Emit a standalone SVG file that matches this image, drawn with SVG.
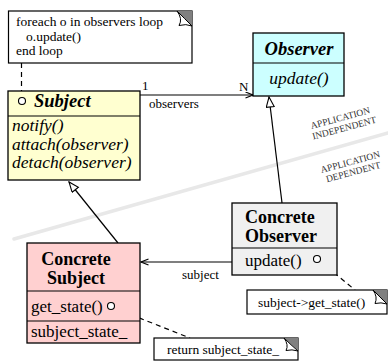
<svg xmlns="http://www.w3.org/2000/svg" width="388" height="361" viewBox="0 0 388 361" font-family="'Liberation Serif', 'Times New Roman', 'DejaVu Serif', serif">
<style>
text{font-family:'Liberation Serif','Times New Roman','DejaVu Serif',serif;fill:#000}
.box{stroke:#000;stroke-width:1.3}
.note{fill:#fff;stroke:#000;stroke-width:1.2}
.hdr{font-size:18px;font-weight:bold}
.hi{font-size:18.5px;font-weight:bold;font-style:italic}
.mi{font-size:17.5px;font-style:italic}
.m{font-size:17px}
.sm{font-size:13px}
.nt{font-size:13.5px}
.lbl{font-size:9.5px;fill:#333}
.ln{stroke:#000;stroke-width:1.2;fill:none}
.dash{stroke:#000;stroke-width:1.2;stroke-dasharray:5,4;fill:none}
.dot{fill:#fff;stroke:#000;stroke-width:1.1}
.curl{fill:#fff;stroke:#000;stroke-width:1}
.fold{fill:#808080}
</style>
<defs>
<marker id="inh" markerWidth="12" markerHeight="10" refX="11" refY="4.5" orient="auto" markerUnits="userSpaceOnUse">
<path d="M1,0.5 L11,4.5 L1,8.5 Z" fill="#fff" stroke="#000" stroke-width="1.1"/>
</marker>
<marker id="open" markerWidth="9" markerHeight="8" refX="8" refY="3.5" orient="auto" markerUnits="userSpaceOnUse">
<path d="M0.5,0.5 L8,3.5 L0.5,6.5" fill="none" stroke="#000" stroke-width="1.1"/>
</marker>
</defs>

<g id="band">
<line x1="14" y1="239" x2="388" y2="133" stroke="#e8e8e8" stroke-width="3.5" stroke-linecap="round"/>
<text class="lbl" transform="translate(341,121) rotate(-15)" text-anchor="middle">APPLICATION</text>
<text class="lbl" transform="translate(345,131) rotate(-15)" text-anchor="middle">INDEPENDENT</text>
<text class="lbl" transform="translate(351,165) rotate(-15)" text-anchor="middle">APPLICATION</text>
<text class="lbl" transform="translate(354,175) rotate(-15)" text-anchor="middle">DEPENDENT</text>
</g>

<g id="connectors">
<line class="dash" x1="21.5" y1="63" x2="21.5" y2="97"/>
<line class="ln" x1="140" y1="95" x2="253" y2="95" marker-end="url(#open)"/>
<text class="sm" x="142" y="90">1</text>
<text class="sm" x="239" y="91">N</text>
<text class="sm" x="149" y="108">observers</text>
<line class="ln" x1="282" y1="203" x2="269" y2="97" marker-end="url(#inh)"/>
<line class="ln" x1="118" y1="243" x2="69" y2="182" marker-end="url(#inh)"/>
<line class="ln" x1="232" y1="262" x2="141" y2="262" marker-end="url(#open)"/>
<text class="sm" x="182" y="279">subject</text>
<line class="dash" x1="320" y1="261" x2="355" y2="290"/>
<line class="dash" x1="114" y1="308" x2="190" y2="338"/>
</g>

<g id="note1">
<rect class="note" x="8.5" y="11" width="183.5" height="52"/>
<polygon class="fold" points="177,11 192,11 192,26"/>
<path class="curl" d="M177,11 Q183,19 179,25.5 Q186,23.5 192,26 Q184,18 177,11 Z"/>
<text class="nt" x="16" y="26">foreach o in observers loop</text>
<text class="nt" x="26" y="40.5">o.update()</text>
<text class="nt" x="16" y="55">end loop</text>
</g>

<g id="subject">
<rect class="box" x="8" y="91" width="132" height="89" fill="#ffffd0"/>
<line class="ln" x1="8" y1="116" x2="140" y2="116"/>
<circle class="dot" cx="22" cy="101" r="3.5"/>
<text class="hi" x="34" y="107">Subject</text>
<text class="mi" x="12" y="131">notify()</text>
<text class="mi" x="12" y="150">attach(observer)</text>
<text class="mi" x="12" y="168">detach(observer)</text>
</g>

<g id="observer">
<rect class="box" x="253" y="33" width="91" height="63" fill="#ccffff"/>
<line class="ln" x1="253" y1="63" x2="344" y2="63"/>
<text class="hi" x="299" y="55" text-anchor="middle">Observer</text>
<text class="mi" x="299" y="84" text-anchor="middle">update()</text>
</g>

<g id="concrete-observer">
<rect class="box" x="232" y="203" width="105" height="72" fill="#f0f0f0"/>
<line class="ln" x1="232" y1="248" x2="337" y2="248"/>
<text class="hdr" x="245" y="223">Concrete</text>
<text class="hdr" x="245" y="242">Observer</text>
<text class="m" x="245" y="266">update()</text>
<circle class="dot" cx="317" cy="259" r="3.5"/>
</g>

<g id="concrete-subject">
<rect class="box" x="27" y="243" width="113" height="100" fill="#ffd0d0"/>
<line class="ln" x1="27" y1="291" x2="140" y2="291"/>
<line class="ln" x1="27" y1="321" x2="140" y2="321"/>
<text class="hdr" x="76" y="265" text-anchor="middle">Concrete</text>
<text class="hdr" x="76" y="284" text-anchor="middle">Subject</text>
<text class="m" x="31" y="312">get_state()</text>
<circle class="dot" cx="111" cy="306" r="3.5"/>
<text class="m" x="31" y="337">subject_state_</text>
</g>

<g id="note2">
<rect class="note" x="247" y="290" width="140" height="24"/>
<polygon class="fold" points="373,290 387,290 387,304"/>
<path class="curl" d="M373,290 Q378,297 375,303.5 Q381,302 387,304 Q380,297 373,290 Z"/>
<text class="nt" x="258" y="307">subject-&gt;get_state()</text>
</g>

<g id="note3">
<rect class="note" x="154" y="338" width="144" height="22"/>
<polygon class="fold" points="284,338 298,338 298,351"/>
<path class="curl" d="M284,338 Q289,345 286,350.5 Q292,349 298,351 Q291,345 284,338 Z"/>
<text class="nt" x="167" y="354">return subject_state_</text>
</g>
</svg>
